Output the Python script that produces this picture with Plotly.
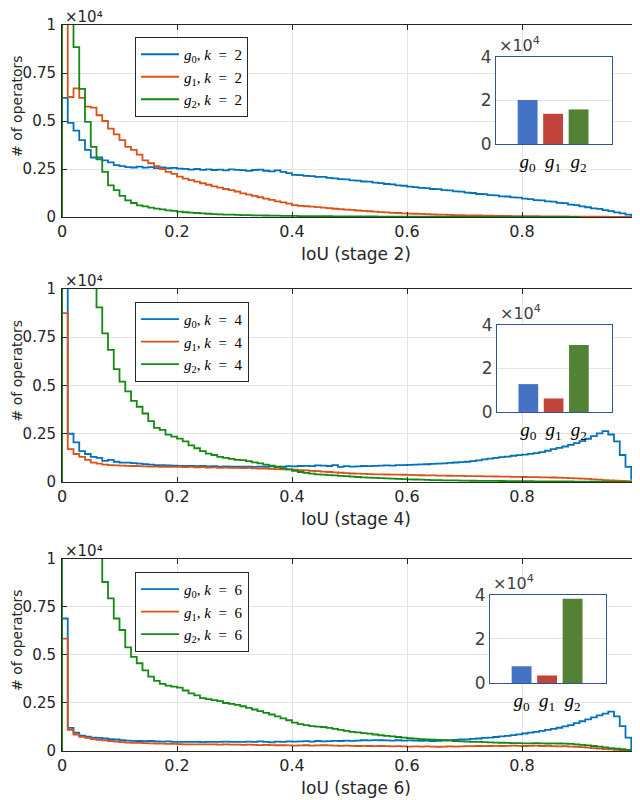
import numpy as np
import plotly.graph_objects as go

# histogram counts per IoU bin (bin width 0.01)
bin_width = 0.01
stages = [2, 4, 6]

stage2_g0 = [6200, 4900, 4500, 4000, 3500, 3100, 3100, 2950, 2850, 2700, 2650,
             2600, 2580, 2620, 2570, 2600, 2550, 2590, 2540, 2560, 2520,
             2510, 2470, 2500, 2460, 2480, 2450, 2470, 2430, 2480, 2460,
             2440, 2400, 2450, 2470, 2410, 2380, 2430, 2350, 2290, 2200,
             2180, 2140, 2130, 2090, 2090, 2040, 2010, 1970, 1960, 1910,
             1900, 1850, 1840, 1790, 1770, 1720, 1700, 1650, 1630, 1580,
             1560, 1520, 1510, 1460, 1450, 1400, 1390, 1340, 1320, 1270,
             1250, 1200, 1190, 1140, 1130, 1080, 1070, 1020, 1010, 960,
             930, 880, 870, 820, 800, 740, 720, 650, 620, 550,
             510, 450, 420, 360, 310, 240, 190, 120, 80]
stage2_g1 = [14000, 6250, 6700, 6200, 5750, 5700, 5300, 5000, 4600, 4300, 4000,
             3650, 3500, 3250, 2950, 2800, 2650, 2500, 2350, 2250, 2100,
             2000, 1920, 1840, 1760, 1680, 1600, 1530, 1460, 1400, 1330,
             1230, 1170, 1100, 1030, 960, 890, 820, 760, 700, 620,
             580, 560, 540, 520, 490, 460, 430, 410, 390, 370,
             340, 320, 300, 280, 260, 240, 220, 210, 190, 180,
             170, 160, 150, 140, 130, 120, 110, 100, 95, 90,
             85, 80, 75, 70, 65, 60, 55, 50, 48, 45,
             42, 40, 38, 35, 33, 30, 28, 26, 24, 22,
             20, 18, 16, 14, 12, 10, 8, 6, 4]
stage2_g2 = [30000, 13000, 8850, 6670, 4950, 3650, 3000, 2350, 1650, 1400, 1100,
             870, 730, 610, 550, 490, 440, 400, 350, 320, 280,
             250, 230, 210, 190, 170, 150, 140, 130, 120, 110,
             100, 95, 90, 85, 80, 75, 70, 65, 60, 55,
             50, 48, 46, 44, 42, 40, 38, 36, 34, 32,
             30, 29, 28, 27, 26, 25, 24, 23, 22, 21,
             20, 19, 18, 17, 16, 15, 14, 13, 12, 11,
             10, 10, 9, 9, 8, 8, 7, 7, 6, 6,
             5, 5, 5, 4, 4, 4, 3, 3, 3]

stage4_g0 = [16000, 2500, 2050, 1600, 1450, 1300, 1250, 1100, 1150, 1050, 1000,
             1000, 980, 950, 930, 900, 880, 870, 860, 850, 840,
             830, 840, 820, 830, 810, 820, 800, 810, 790, 800,
             790, 800, 780, 800, 790, 810, 780, 800, 820, 810,
             830, 840, 820, 860, 850, 830, 870, 780, 820, 800,
             810, 830, 820, 840, 850, 860, 850, 870, 880, 890,
             900, 910, 920, 940, 950, 970, 990, 1010, 1030, 1050,
             1080, 1120, 1170, 1210, 1250, 1290, 1320, 1360, 1390, 1420,
             1460, 1500, 1550, 1620, 1700, 1770, 1840, 1920, 2010, 2120,
             2240, 2380, 2520, 2640, 2460, 2100, 1400, 780, 170]
stage4_g1 = [8750, 1700, 1450, 1300, 1150, 1000, 950, 900, 880, 860, 850,
             840, 830, 820, 810, 800, 800, 790, 790, 780, 780,
             770, 780, 760, 770, 750, 760, 740, 750, 730, 740,
             720, 730, 710, 700, 690, 680, 670, 660, 650, 640,
             620, 600, 580, 560, 540, 520, 500, 480, 460, 440,
             430, 420, 410, 400, 395, 390, 385, 380, 375, 370,
             360, 350, 345, 340, 335, 330, 325, 320, 315, 310,
             305, 300, 295, 290, 285, 280, 275, 270, 265, 260,
             255, 250, 245, 240, 235, 225, 215, 205, 190, 175,
             160, 140, 120, 100, 85, 70, 55, 40, 25]
stage4_g2 = [40000, 30000, 22000, 17000, 13500, 11000,
             9050, 7700, 6850, 5850, 5200,
             4700, 4200, 3900, 3550, 3150, 2800, 2700, 2450, 2350, 2250,
             2100, 1900, 1750, 1600, 1470, 1400, 1300, 1250, 1200, 1150,
             1130, 1080, 1020, 970, 900, 850, 790, 720, 650, 580,
             520, 470, 430, 400, 380, 360, 340, 320, 300, 280,
             260, 240, 225, 210, 200, 185, 175, 160, 150, 140,
             130, 120, 110, 100, 95, 90, 85, 80, 75, 70,
             65, 62, 60, 58, 55, 52, 50, 48, 45, 42,
             40, 38, 36, 34, 32, 30, 28, 26, 24, 22,
             20, 18, 16, 14, 12, 10, 8, 6, 4]

stage6_g0 = [6900, 1200, 950, 800, 750, 700, 680, 650, 620, 600, 560,
             540, 530, 520, 510, 520, 500, 490, 500, 480, 470,
             480, 470, 480, 460, 470, 480, 470, 490, 470, 480,
             480, 490, 470, 500, 480, 450, 490, 480, 500, 490,
             500, 510, 490, 520, 500, 510, 530, 520, 540, 530,
             540, 560, 550, 570, 560, 550, 540, 560, 540, 550,
             540, 530, 540, 520, 530, 560, 570, 580, 600, 610,
             630, 650, 680, 700, 730, 760, 790, 830, 870, 910,
             960, 1000, 1050, 1100, 1150, 1210, 1280, 1350, 1450, 1550,
             1650, 1750, 1850, 1950, 2050, 1800, 1300, 700, 150]
stage6_g1 = [5850, 1100, 860, 740, 680, 620, 580, 550, 520, 490, 460,
             440, 430, 420, 410, 400, 390, 380, 370, 370, 360,
             350, 350, 340, 340, 350, 340, 330, 340, 330, 330,
             320, 330, 320, 310, 320, 310, 300, 300, 290, 280,
             290, 300, 280, 290, 300, 290, 280, 270, 280, 270,
             260, 270, 260, 250, 260, 250, 240, 250, 240, 230,
             240, 230, 240, 230, 220, 230, 240, 230, 240, 250,
             250, 260, 250, 260, 270, 260, 270, 280, 270, 260,
             270, 280, 260, 270, 250, 240, 250, 230, 220, 200,
             180, 150, 120, 100, 80, 60, 40, 25, 10]
stage6_g2 = [50000, 40000, 30000, 22000, 17000, 14000, 11500,
             8800, 7950, 6900, 6300,
             5400, 4900, 4570, 4200, 3870, 3650, 3500, 3400, 3350, 3300,
             3150, 3000, 2900, 2750, 2700, 2650, 2600, 2500, 2450, 2400,
             2330, 2250, 2160, 2080, 1990, 1900, 1800, 1700, 1600, 1480,
             1400, 1350, 1300, 1270, 1250, 1200, 1150, 1100, 1050, 1000,
             970, 930, 900, 860, 820, 790, 760, 730, 700, 670,
             640, 620, 600, 590, 580, 560, 540, 520, 500, 490,
             480, 470, 460, 450, 440, 430, 420, 410, 410, 400,
             400, 410, 400, 390, 400, 390, 380, 370, 350, 320,
             290, 260, 230, 190, 150, 120, 90, 60, 30]

# total operators per group (inset bars)
group_labels = ["g0", "g1", "g2"]
group_ticktext = ["<i>g</i><sub>0</sub>", "<i>g</i><sub>1</sub>", "<i>g</i><sub>2</sub>"]
totals_stage2 = [20200, 13900, 15900]
totals_stage4 = [12800, 6200, 30800]
totals_stage6 = [7600, 3400, 38300]

hist_data = [[stage2_g0, stage2_g1, stage2_g2],
             [stage4_g0, stage4_g1, stage4_g2],
             [stage6_g0, stage6_g1, stage6_g2]]
totals = [totals_stage2, totals_stage4, totals_stage6]

line_colors = ["#0072BD", "#D95319", "#138A13"]
bar_colors = ["#4472C4", "#C0443A", "#548235"]
axis_color = "#262626"
grid_color = "#e3e3e3"
sans = "DejaVu Sans"
serif = "Liberation Serif"


def stairs(counts):
    c = np.asarray(counts, dtype=float) / 1e4
    edges = np.arange(len(c) + 1) * bin_width
    x = np.concatenate([[0.0], edges, [edges[-1]]])
    y = np.concatenate([[0.0], c, [c[-1], 0.0]])
    return x, y


# panel / inset positions (paper fractions); page body adds an 8px offset
main_domains = [[0.7355, 1.0], [0.3705, 0.6364], [0.0, 0.2645]]
inset_x = [[0.7548, 0.9565], [0.7565, 0.9565], [0.7443, 0.9461]]
inset_y = [[0.836, 0.956], [0.467, 0.5868], [0.0937, 0.2149]]
legend_y = [0.9835, 0.6185, 0.2466]

fig = go.Figure()
layout = {}
annotations = []

for p, stage in enumerate(stages):
    n = p + 1
    sfx = "" if n == 1 else str(n)
    leg = "legend" if n == 1 else "legend" + str(n)
    for g in range(3):
        x, y = stairs(hist_data[p][g])
        fig.add_trace(go.Scatter(
            x=x, y=y, mode="lines", line_shape="hv",
            line=dict(color=line_colors[g], width=1.8),
            name="<i>g</i><sub>%d</sub>, <i>k</i>\u2002=\u2002%d" % (g, stage),
            xaxis="x" + sfx, yaxis="y" + sfx, legend=leg))

    layout["xaxis" + sfx] = dict(
        domain=[0, 1], anchor="y" + sfx, range=[0, 1], automargin=False,
        tickvals=[0, 0.2, 0.4, 0.6, 0.8, 1],
        ticktext=["0", "0.2", "0.4", "0.6", "0.8", "1"],
        showgrid=True, gridcolor=grid_color, zeroline=False,
        showline=True, linecolor=axis_color, linewidth=1, mirror="ticks",
        ticks="inside", ticklen=5, tickcolor=axis_color,
        tickfont=dict(family=sans, size=16, color=axis_color))
    layout["yaxis" + sfx] = dict(
        domain=main_domains[p], anchor="x" + sfx, range=[0, 1], automargin=False,
        tickvals=[0, 0.25, 0.5, 0.75, 1],
        ticktext=["0", "0.25", "0.5", "0.75", "1"],
        showgrid=True, gridcolor=grid_color, zeroline=False,
        showline=True, linecolor=axis_color, linewidth=1, mirror="ticks",
        ticks="inside", ticklen=5, tickcolor=axis_color,
        ticklabelstandoff=2,
        tickfont=dict(family=sans, size=15, color=axis_color))
    layout[leg] = dict(
        x=0.127, y=legend_y[p], xanchor="left", yanchor="top",
        bgcolor="rgba(255,255,255,0.85)", bordercolor=axis_color, borderwidth=1,
        font=dict(family=serif, size=15, color="black"), tracegroupgap=0,
        itemwidth=38)
    # axis titles
    annotations.append(dict(
        xref="paper", yref="y%s domain" % sfx, x=(9 - 54) / 575, y=0.5,
        xanchor="center", yanchor="middle", yshift=15, textangle=-90,
        showarrow=False, text="# of operators",
        font=dict(family=sans, size=14, color=axis_color)))
    annotations.append(dict(
        xref="x%s domain" % sfx, yref="y%s domain" % sfx, x=0.5, y=0,
        xanchor="center", yanchor="middle", xshift=6, yshift=-37,
        showarrow=False, text="IoU (stage %d)" % stage,
        font=dict(family=sans, size=17, color=axis_color)))
    annotations.append(dict(
        xref="x%s domain" % sfx, yref="y%s domain" % sfx, x=0, y=1,
        xanchor="left", yanchor="bottom", showarrow=False, xshift=1, yshift=-3,
        text="×10⁴", font=dict(family=sans, size=15, color=axis_color)))

    # inset bar chart
    m = n + 3
    fig.add_trace(go.Bar(
        x=group_labels, y=np.asarray(totals[p]) / 1e4,
        marker=dict(color=bar_colors, line=dict(width=0)), width=0.78,
        showlegend=False, xaxis="x%d" % m, yaxis="y%d" % m))
    layout["xaxis%d" % m] = dict(
        domain=inset_x[p], anchor="y%d" % m, range=[-1.24, 3.31], automargin=False,
        tickvals=group_labels, ticktext=group_ticktext,
        showline=True, linecolor="#2F5597", linewidth=1, mirror=True,
        showgrid=False, ticks="",
        tickfont=dict(family=serif, size=19, color="black"))
    layout["yaxis%d" % m] = dict(
        domain=inset_y[p], anchor="x%d" % m, range=[0, 4], tickvals=[0, 2, 4],
        automargin=False,
        showline=True, linecolor="#2F5597", linewidth=1, mirror=True,
        showgrid=True, gridcolor=grid_color, zeroline=False, ticks="",
        tickfont=dict(family=sans, size=17, color="#404040"))
    annotations.append(dict(
        xref="x%d domain" % m, yref="y%d domain" % m, x=0, y=1,
        xanchor="left", yanchor="bottom", showarrow=False, xshift=1,
        text="×10<sup>4</sup>", font=dict(family=sans, size=16, color="#404040")))

fig.update_layout(
    width=632, height=792,
    margin=dict(l=54, r=3, t=17, b=49, autoexpand=False),
    plot_bgcolor="white", paper_bgcolor="white",
    annotations=annotations,
    **layout)

fig.write_html("out.html")
